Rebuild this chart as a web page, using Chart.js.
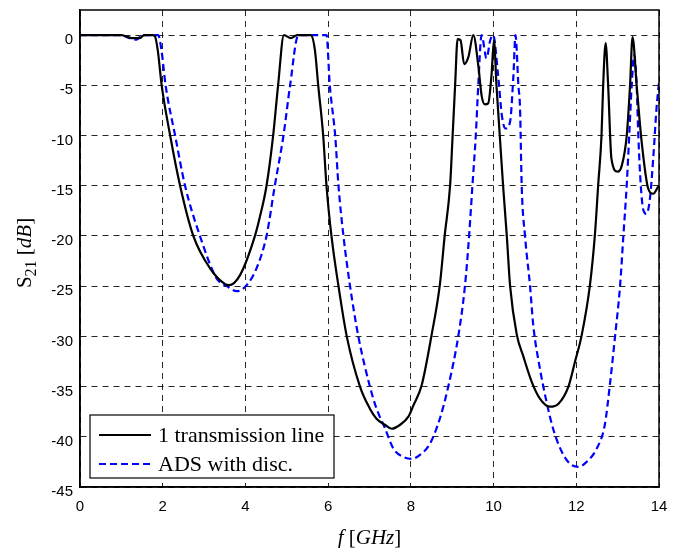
<!DOCTYPE html>
<html>
<head>
<meta charset="utf-8">
<script src="https://cdn.jsdelivr.net/npm/chart.js@4.4.1/dist/chart.umd.min.js"></script>
<style>
  html, body { margin: 0; padding: 0; background: #fff; }
  #wrap { width: 678px; height: 548px; }
</style>
</head>
<body>
<div id="wrap"><canvas id="mainChart" width="678" height="548"></canvas></div>
<script>
// Frequency points (GHz) and S21 values (dB)
const freqTL = [0, 1.0, 1.25, 1.45, 1.55, 1.75, 1.81, 1.88, 1.975, 2.18, 2.42, 2.74, 3.14, 3.51, 3.6, 3.87, 4.23, 4.35, 4.51, 4.67, 4.79, 4.93, 5.1, 5.25, 5.58, 5.68, 5.76, 5.88, 5.96, 6.08, 6.25, 6.45, 6.77, 7.01, 7.17, 7.37, 7.54, 7.74, 7.94, 8.06, 8.26, 8.5, 8.7, 8.82, 8.95, 9.01, 9.07, 9.13, 9.2, 9.29, 9.39, 9.51, 9.63, 9.71, 9.79, 9.87, 9.95, 10.01, 10.07, 10.15, 10.23, 10.32, 10.4, 10.56, 10.72, 10.92, 11.12, 11.36, 11.57, 11.81, 11.97, 12.13, 12.33, 12.45, 12.53, 12.61, 12.65, 12.71, 12.77, 12.85, 13.0, 13.1, 13.22, 13.3, 13.36, 13.46, 13.58, 13.74, 13.86, 13.98, 14.0];
const s21TL = [0, 0, -0.3, -0.3, 0, 0, -0.1, -1.5, -5, -10, -15, -20, -23.2, -24.8, -24.9, -23.9, -20, -18.1, -15, -10, -5, 0, -0.3, 0, 0, -1.5, -5, -10, -15, -20, -25, -30, -35, -37.2, -38.2, -38.8, -39.2, -38.8, -38, -36.9, -34.9, -29.9, -24.9, -19.9, -14.9, -10, -5, -0.4, -0.5, -2.9, -2.2, 0, -3, -6, -6.9, -6.8, -4, -0.5, -5, -10, -15, -20, -25, -29.8, -32, -34.5, -36.2, -37, -36.7, -35, -32.5, -29.9, -24.9, -19.9, -14.9, -10, -5, -0.8, -5, -12.3, -13.6, -13, -10, -5, -0.2, -5, -10.6, -15.3, -15.8, -15.1, -15];

const freqADS = [0, 0.97, 1.2, 1.37, 1.5, 1.89, 1.97, 2.07, 2.3, 2.54, 2.9, 3.3, 3.55, 3.79, 4.03, 4.27, 4.51, 4.71, 4.92, 5.08, 5.28, 5.96, 6.04, 6.17, 6.25, 6.37, 6.53, 6.73, 7.01, 7.17, 7.37, 7.58, 7.82, 8.02, 8.22, 8.46, 8.7, 8.91, 9.15, 9.31, 9.41, 9.49, 9.57, 9.63, 9.71, 9.83, 9.92, 9.99, 10.11, 10.2, 10.29, 10.4, 10.48, 10.53, 10.6, 10.64, 10.68, 10.76, 10.88, 10.96, 11.12, 11.28, 11.44, 11.65, 11.85, 12.05, 12.25, 12.49, 12.69, 12.81, 12.94, 13.06, 13.14, 13.22, 13.28, 13.34, 13.4, 13.46, 13.5, 13.56, 13.62, 13.7, 13.78, 13.86, 13.94, 14.0];
const s21ADS = [0, 0, -0.3, -0.45, 0, 0, -1.5, -5, -10, -15, -20, -24.2, -25, -25.5, -24.9, -23.2, -20, -15, -10, -5, 0, 0, -5, -10, -15, -20, -25, -30, -35, -37.2, -39.1, -41.2, -42, -42.2, -41.8, -40.7, -38.2, -34.9, -29.9, -24.9, -19.9, -14.9, -10, -5, 0, -2.3, -0.5, 0, -4, -8, -9.3, -8.6, -4, 0, -5, -7.3, -15, -20, -24.9, -28.9, -33.2, -36.5, -39.2, -41.5, -42.7, -43, -42.5, -41.2, -38.8, -34.9, -29.9, -24.9, -19.9, -14.9, -10, -5, -2, -5, -10, -15, -17.4, -17.8, -16.3, -12.3, -7.3, -4.7];

// Axis ticks
const xTicks = [0, 2, 4, 6, 8, 10, 12, 14];
const yTicks = [-45, -40, -35, -30, -25, -20, -15, -10, -5, 0];

const seriesNames = ['1 transmission line', 'ADS with disc.'];

function toPoints(xs, ys) {
    return xs.map((x, i) => ({ x: x, y: ys[i] }));
}

// Frame, axis titles and legend drawn on top of the chart
const decorPlugin = {
    id: 'decor',
    afterDraw(chart) {
        const ctx = chart.ctx;
        const a = chart.chartArea;
        ctx.save();

        // full box round the plot
        ctx.strokeStyle = '#000';
        ctx.lineWidth = 1.5;
        ctx.setLineDash([]);
        ctx.strokeRect(a.left, a.top, a.right - a.left, a.bottom - a.top);

        // x title: f [GHz]
        ctx.fillStyle = '#000';
        ctx.textBaseline = 'alphabetic';
        const italic = 'italic 21px "Liberation Serif"';
        const upright = '21px "Liberation Serif"';
        const xParts = [['f', italic], [' [', upright], ['GHz', italic], [']', upright]];
        let total = 0;
        xParts.forEach(p => { ctx.font = p[1]; total += ctx.measureText(p[0]).width; });
        let cx = (a.left + a.right) / 2 - total / 2;
        xParts.forEach(p => {
            ctx.font = p[1];
            ctx.fillText(p[0], cx, 544);
            cx += ctx.measureText(p[0]).width;
        });

        // y title: S21 [dB]
        ctx.save();
        ctx.translate(31, 253);
        ctx.rotate(-Math.PI / 2);
        const yParts = [['S', upright, 0], ['21', '16px "Liberation Serif"', 5], [' [', upright, 0], ['dB', italic, 0], [']', upright, 0]];
        total = 0;
        yParts.forEach(p => { ctx.font = p[1]; total += ctx.measureText(p[0]).width; });
        cx = -total / 2;
        yParts.forEach(p => {
            ctx.font = p[1];
            ctx.fillText(p[0], cx, p[2]);
            cx += ctx.measureText(p[0]).width;
        });
        ctx.restore();

        // legend box
        const lx = 90, ly = 415, lw = 244, lh = 63;
        ctx.fillStyle = '#fff';
        ctx.fillRect(lx, ly, lw, lh);
        ctx.strokeStyle = '#000';
        ctx.lineWidth = 1.2;
        ctx.strokeRect(lx, ly, lw, lh);

        const rows = [
            { y: 435, color: '#000', dash: [] },
            { y: 464, color: '#0000ff', dash: [7, 4] }
        ];
        rows.forEach((r, i) => {
            ctx.beginPath();
            ctx.strokeStyle = r.color;
            ctx.lineWidth = 2.2;
            ctx.setLineDash(r.dash);
            ctx.moveTo(99, r.y);
            ctx.lineTo(151, r.y);
            ctx.stroke();
            ctx.setLineDash([]);
            ctx.fillStyle = '#000';
            ctx.font = '22px "Liberation Serif"';
            ctx.textBaseline = 'middle';
            ctx.fillText(seriesNames[i], 158, r.y + 1);
        });

        ctx.restore();
    }
};

const ctx = document.getElementById('mainChart').getContext('2d');
window.mainChart = new Chart(ctx, {
    type: 'line',
    data: {
        datasets: [{
            label: seriesNames[0],
            data: toPoints(freqTL, s21TL),
            borderColor: '#000',
            borderWidth: 2.2,
            pointRadius: 0,
            cubicInterpolationMode: 'monotone',
            fill: false
        }, {
            label: seriesNames[1],
            data: toPoints(freqADS, s21ADS),
            borderColor: '#0000ff',
            borderWidth: 2.2,
            borderDash: [7, 4],
            pointRadius: 0,
            cubicInterpolationMode: 'monotone',
            fill: false
        }]
    },
    options: {
        responsive: false,
        animation: false,
        layout: { padding: { left: 0, right: 19, top: 10, bottom: 0 } },
        plugins: {
            legend: { display: false },
            tooltip: { enabled: false }
        },
        scales: {
            x: {
                type: 'linear',
                min: 0,
                max: 14,
                afterBuildTicks: (axis) => { axis.ticks = xTicks.map(v => ({ value: v })); },
                afterFit: (scale) => { scale.height = 61; scale.paddingLeft = 0; scale.paddingRight = 0; },
                grid: {
                    color: 'rgba(0,0,0,0.85)',
                    lineWidth: 1,
                    drawTicks: false
                },
                border: { display: true, color: '#000', width: 1.5, dash: [6, 5] },
                ticks: {
                    padding: 11,
                    color: '#000',
                    font: { family: '"Liberation Sans", Arial, sans-serif', size: 15 }
                }
            },
            y: {
                type: 'linear',
                min: -45,
                max: 2.5,
                afterBuildTicks: (axis) => { axis.ticks = yTicks.map(v => ({ value: v })); },
                afterFit: (scale) => { scale.width = 80; scale.paddingTop = 0; scale.paddingBottom = 0; },
                grid: {
                    color: 'rgba(0,0,0,0.85)',
                    lineWidth: 1,
                    drawTicks: false
                },
                border: { display: true, color: '#000', width: 1.5, dash: [6, 5] },
                ticks: {
                    padding: 7,
                    labelOffset: 5,
                    color: '#000',
                    font: { family: '"Liberation Sans", Arial, sans-serif', size: 15 }
                }
            }
        }
    },
    plugins: [decorPlugin]
});
</script>
</body>
</html>
